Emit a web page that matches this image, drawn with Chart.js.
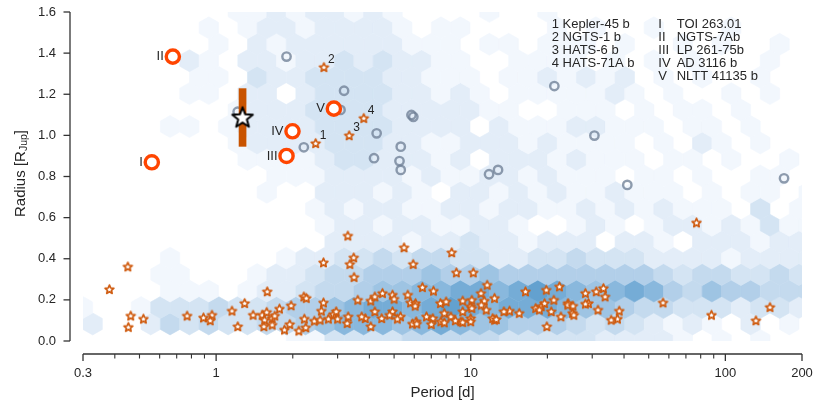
<!DOCTYPE html>
<html><head><meta charset="utf-8">
<script src="https://cdn.jsdelivr.net/npm/chart.js@4.4.1/dist/chart.umd.min.js"></script>
<style>html,body{margin:0;padding:0;background:#fff;}canvas{display:block;}</style>
</head><body>
<canvas id="c" width="831" height="406"></canvas>
<script>
// ---------------- DATA ----------------
const xTickValues = [0.3, 1, 10, 100, 200];
const xTickLabels = ['0.3', '1', '10', '100', '200'];
const xMinorTicks = [0.4,0.5,0.6,0.7,0.8,0.9,2,3,4,5,6,7,8,9,20,30,40,50,60,70,80,90];
const yTickValues = [0, 0.2, 0.4, 0.6, 0.8, 1.0, 1.2, 1.4, 1.6];
const yTickLabels = ['0.0','0.2','0.4','0.6','0.8','1.0','1.2','1.4','1.6'];

// hexbin density levels (0 = empty), row 0 at the bottom
const hexXStart = 0.3, hexLogStep = 0.076, hexYStart = 0.003, hexYStep = 0.08;
const hexRows = [
 "00000000000113333444443333322221010100",
 "20024343344567776787665554343212102010",
 "10013334334556788789878887665443332332",
 "00001110122344566778878987678754655444",
 "00001100012234455565565555555543443343",
 "00001000001223343443322334333222212222",
 "00000000000002222122322122202210222122",
 "00000000000012212211221001210122121311",
 "00000000000012122112212211212121110301",
 "00000000010022212102212121121110101101",
 "00000000001112222121122121110110100110",
 "00000000111123322212022212111011010010",
 "00000000122223332211222121111010210100",
 "00001101222233332222021112211101101000",
 "00000000122233332222211001110101101000",
 "00000110220233332212101111121010010100",
 "00000011032233332211101121212010100100",
 "00000210221223232211001111010101000100",
 "00000001021222222111011011101001010010",
 "00000010122122221011000010100100010000",
 "00000000112122121000010010000000000000"
];
const hexLevelColors = ['', '#f2f7fd', '#e3edf8', '#d4e4f3', '#c4daee', '#b2cfe9', '#9ec4e3', '#89b8dd', '#75acd6', '#63a1cf'];

// small planets (orange stars)
const starPeriod = [0.450,0.381,0.462,0.452,0.518,0.769,0.892,0.963,0.948,1.154,1.294,1.216,1.587,1.397,1.516,1.58,1.55,1.54,1.66,1.66,1.70,1.773,1.855,1.946,1.97,2.113,2.21,2.26,2.22,2.25,2.43,2.59,2.64,2.56,2.76,2.89,2.96,3.0,3.27,3.30,2.64,3.29,3.47,3.35,3.48,3.6,
 5.47,5.94,8.42,8.78,10.23,4.05,4.2,4.5,4.93,5.0,5.66,5.8,6.07,6.46,7.14,7.6,8.0,9.3,10.1,10.97,11.6,11.3,12.4,11.5,11.0,10.0,9.3,10.0,9.15,8.36,7.87,7.63,7.1,7.0,6.7,6.1,5.9,5.3,5.15,4.93,4.8,4.47,4.2,4.05,3.85,3.73,15.5,14.2,13.5,12.4,16.4,18.0,18.9,19.5,21.2,20.7,22.6,25.1,24.1,19.9,19.8,22.3,28.2,31.1,33.2,33.7,29.0,31.6,38.3,37.7,35.6,
 56.9,77.0,88.2,131.8,149.7,6.05,6.14,7.87,8.7,9.3,10.0,10.1,12.2,12.6,18.6,24.06,25.4,25.2,28.2];
const starRadius = [0.361,0.251,0.122,0.067,0.107,0.122,0.113,0.126,0.099,0.146,0.183,0.070,0.240,0.126,0.126,0.140,0.102,0.070,0.110,0.078,0.122,0.156,0.054,0.081,0.172,0.049,0.215,0.208,0.107,0.065,0.097,0.146,0.186,0.102,0.107,0.130,0.143,0.107,0.086,0.118,0.381,0.511,0.405,0.373,0.310,0.199,
 0.454,0.373,0.430,0.332,0.332,0.195,0.215,0.232,0.224,0.204,0.224,0.186,0.183,0.261,0.243,0.183,0.191,0.195,0.199,0.232,0.272,0.195,0.208,0.151,0.175,0.167,0.143,0.110,0.094,0.118,0.135,0.094,0.110,0.081,0.118,0.094,0.083,0.118,0.107,0.143,0.126,0.110,0.143,0.070,0.110,0.118,0.135,0.146,0.143,0.102,0.240,0.159,0.167,0.183,0.199,0.143,0.118,0.135,0.183,0.070,0.248,0.264,0.232,0.240,0.256,0.215,0.183,0.151,0.146,0.107,0.102,
 0.186,0.575,0.126,0.099,0.164,0.170,0.083,0.089,0.099,0.091,0.094,0.159,0.110,0.105,0.151,0.175,0.126,0.170,0.180];

// numbered planets
const namedPeriod = [2.46, 2.65, 3.33, 3.80];
const namedRadius = [0.961, 1.331, 0.999, 1.083];
const namedLabels = ['1', '2', '3', '4'];
const namedLegend = ['1 Kepler-45 b', '2 NGTS-1 b', '3 HATS-6 b', '4 HATS-71A b'];

// roman-numbered planets (orange circles)
const romanPeriod = [0.559, 0.676, 1.89, 1.995, 2.90];
const romanRadius = [0.869, 1.383, 0.900, 1.020, 1.130];
const romanLabels = ['I', 'II', 'III', 'IV', 'V'];
const romanNames = ['TOI 263.01', 'NGTS-7Ab', 'LP 261-75b', 'AD 3116 b', 'NLTT 41135 b'];

// other giant planets (grey circles)
const greyPeriod = [1.89, 3.18, 3.08, 4.27, 4.17, 2.21, 5.31, 5.25, 5.31, 5.85, 5.95, 1.215, 21.3, 30.6, 11.8, 12.8, 41.2, 170];
const greyRadius = [1.383, 1.217, 1.124, 1.010, 0.889, 0.942, 0.945, 0.875, 0.832, 1.099, 1.090, 1.115, 1.240, 0.999, 0.811, 0.832, 0.759, 0.791];

// target planet
const targetPeriod = 1.27;
const targetRadius = 1.087;
const targetRadiusErr = 0.142;

// ---------------- STYLE ----------------
const FONT = '"Liberation Sans", Arial, Helvetica, sans-serif';
const TXT = '#262626';
Chart.defaults.font.family = FONT;
Chart.defaults.color = TXT;

function starCanvas(R, ratio, fill, stroke, lw) {
  const size = Math.ceil(2 * (R + lw + 1));
  const c = document.createElement('canvas');
  c.width = c.height = size;
  const g = c.getContext('2d');
  const cx = size / 2, cy = size / 2 + R * 0.05;
  g.beginPath();
  for (let i = 0; i < 10; i++) {
    const r = i % 2 ? R * ratio : R;
    const a = -Math.PI / 2 + i * Math.PI / 5;
    const px = cx + r * Math.cos(a), py = cy + r * Math.sin(a);
    if (i) g.lineTo(px, py); else g.moveTo(px, py);
  }
  g.closePath();
  g.fillStyle = fill; g.fill();
  g.lineJoin = 'round'; g.lineWidth = lw; g.strokeStyle = stroke; g.stroke();
  return c;
}
const smallStar = starCanvas(4.6, 0.46, '#ffffff', '#cf5a0e', 1.7);
const bigStar = starCanvas(10.8, 0.42, '#ffffff', '#000000', 2);

const pts = (xs, ys) => xs.map((v, i) => ({ x: v, y: ys[i] }));

// hexbin plugin
const hexPlugin = {
  id: 'hexbin',
  beforeDatasetsDraw(chart) {
    const { ctx, chartArea: a, scales: { x, y } } = chart;
    ctx.save();
    ctx.beginPath();
    ctx.rect(a.left, a.top, a.right - a.left, a.bottom - a.top);
    ctx.clip();
    const l0 = Math.log10(hexXStart);
    hexRows.forEach((row, j) => {
      const yc = hexYStart + j * hexYStep;
      const py = y.getPixelForValue(yc);
      const s = Math.abs(y.getPixelForValue(yc + hexYStep) - py);
      for (let k = 0; k < row.length; k++) {
        const lev = +row[k];
        if (!lev) continue;
        const lc = l0 + (k + (j % 2 ? 0.5 : 0)) * hexLogStep;
        const px = x.getPixelForValue(Math.pow(10, lc));
        const w = x.getPixelForValue(Math.pow(10, lc + hexLogStep / 2)) - px;
        ctx.beginPath();
        ctx.moveTo(px + w, py - s / 3);
        ctx.lineTo(px, py - 2 * s / 3);
        ctx.lineTo(px - w, py - s / 3);
        ctx.lineTo(px - w, py + s / 3);
        ctx.lineTo(px, py + 2 * s / 3);
        ctx.lineTo(px + w, py + s / 3);
        ctx.closePath();
        ctx.fillStyle = ctx.strokeStyle = hexLevelColors[lev];
        ctx.lineWidth = 0.6;
        ctx.fill(); ctx.stroke();
      }
    });
    ctx.restore();
  }
};

// spines, tick marks, axis label, annotations
const decorPlugin = {
  id: 'decor',
  afterDraw(chart) {
    const { ctx, chartArea: a, scales: { x, y } } = chart;
    ctx.save();
    const off = 13;
    const sx = a.left - off, sy = a.bottom + off;
    ctx.strokeStyle = '#333333';
    ctx.lineWidth = 1.3;
    ctx.lineCap = 'butt';
    ctx.beginPath();
    ctx.moveTo(sx, y.getPixelForValue(yTickValues[yTickValues.length - 1]));
    ctx.lineTo(sx, y.getPixelForValue(yTickValues[0]));
    ctx.stroke();
    yTickValues.forEach(v => {
      const p = y.getPixelForValue(v);
      ctx.beginPath(); ctx.moveTo(sx - 6.5, p); ctx.lineTo(sx, p); ctx.stroke();
    });
    ctx.beginPath();
    ctx.moveTo(x.getPixelForValue(xTickValues[0]), sy);
    ctx.lineTo(x.getPixelForValue(xTickValues[xTickValues.length - 1]), sy);
    ctx.stroke();
    xTickValues.forEach(v => {
      const p = x.getPixelForValue(v);
      ctx.beginPath(); ctx.moveTo(p, sy); ctx.lineTo(p, sy + 7); ctx.stroke();
    });
    ctx.lineWidth = 1.1;
    xMinorTicks.forEach(v => {
      const p = x.getPixelForValue(v);
      ctx.beginPath(); ctx.moveTo(p, sy); ctx.lineTo(p, sy + 4.5); ctx.stroke();
    });

    // y axis title with subscript
    ctx.fillStyle = TXT;
    ctx.save();
    ctx.translate(20.7, (a.top + a.bottom) / 2 - 3);
    ctx.rotate(-Math.PI / 2);
    const parts = [['Radius [R', '15px ' + FONT, 0], ['Jup', '10.5px ' + FONT, 3.5], [']', '15px ' + FONT, 0]];
    let tot = 0;
    parts.forEach(p => { ctx.font = p[1]; tot += ctx.measureText(p[0]).width; });
    let cx = -tot / 2;
    ctx.textBaseline = 'middle'; ctx.textAlign = 'left';
    parts.forEach(p => { ctx.font = p[1]; ctx.fillText(p[0], cx, p[2]); cx += ctx.measureText(p[0]).width; });
    ctx.restore();

    // roman numeral labels next to circles
    ctx.font = '13px ' + FONT;
    ctx.textBaseline = 'middle';
    ctx.textAlign = 'right';
    const romanMeta = chart.getDatasetMeta(2);
    romanLabels.forEach((t, i) => {
      const el = romanMeta.data[i];
      ctx.fillText(t, el.x - 9, el.y);
    });
    // number labels next to named stars
    ctx.font = '12px ' + FONT;
    ctx.textAlign = 'left';
    const namedMeta = chart.getDatasetMeta(3);
    namedLabels.forEach((t, i) => {
      const el = namedMeta.data[i];
      ctx.fillText(t, el.x + 4, el.y - 8);
    });

    // key text block
    ctx.font = '13px ' + FONT;
    const ky = a.top + 12.7, ls = 13;
    namedLegend.forEach((t, i) => ctx.fillText(t, a.left + 468.7, ky + i * ls));
    romanLabels.forEach((t, i) => ctx.fillText(t, a.left + 575.3, ky + i * ls));
    romanNames.forEach((t, i) => ctx.fillText(t, a.left + 593.7, ky + i * ls));
    ctx.restore();
  }
};

new Chart(document.getElementById('c'), {
  type: 'scatter',
  data: {
    datasets: [
      { label: 'target', data: [{ x: targetPeriod, y: targetRadius }], pointStyle: bigStar, order: 0 },
      { label: 'target error', data: [{ x: targetPeriod, y: targetRadius - targetRadiusErr }, { x: targetPeriod, y: targetRadius + targetRadiusErr }],
        showLine: true, borderColor: '#c85300', borderWidth: 7.7, borderCapStyle: 'butt', pointRadius: 0, order: 1 },
      { label: 'roman', data: pts(romanPeriod, romanRadius), pointRadius: 6.6, borderWidth: 3.4, borderColor: '#ff4500', backgroundColor: '#ffffff', order: 2 },
      { label: 'named', data: pts(namedPeriod, namedRadius), pointStyle: smallStar, order: 3 },
      { label: 'stars', data: pts(starPeriod, starRadius), pointStyle: smallStar, order: 4 },
      { label: 'grey', data: pts(greyPeriod, greyRadius), pointRadius: 4.2, borderWidth: 2.4, borderColor: 'rgba(112,128,150,0.78)', backgroundColor: 'rgba(0,0,0,0)', order: 5 }
    ]
  },
  options: {
    responsive: false,
    animation: false,
    devicePixelRatio: 1,
    layout: { padding: { left: 0, right: 29, top: 12, bottom: 0 } },
    plugins: { legend: { display: false }, tooltip: { enabled: false } },
    scales: {
      x: {
        type: 'logarithmic', min: 0.3, max: 200, position: 'bottom',
        grid: { display: false, drawTicks: false }, border: { display: false },
        afterBuildTicks: s => { s.ticks = xTickValues.map(v => ({ value: v })); },
        afterFit: s => { s.height = 65; s.paddingLeft = 0; s.paddingRight = 0; s.paddingTop = 0; s.paddingBottom = 0; },
        ticks: { autoSkip: false, maxRotation: 0, padding: 24.5, font: { size: 13 }, color: TXT,
                 callback: (v, i) => xTickLabels[i] },
        title: { display: true, text: 'Period [d]', font: { size: 15 }, padding: 4.5, color: TXT }
      },
      y: {
        min: 0, max: 1.6,
        grid: { display: false, drawTicks: false }, border: { display: false },
        afterBuildTicks: s => { s.ticks = yTickValues.map(v => ({ value: v })); },
        afterFit: s => { s.width = 83; s.paddingLeft = 0; s.paddingRight = 0; s.paddingTop = 0; s.paddingBottom = 0; },
        ticks: { padding: 27, font: { size: 13 }, color: TXT, callback: (v, i) => yTickLabels[i] }
      }
    }
  },
  plugins: [hexPlugin, decorPlugin]
});
</script>
</body></html>
